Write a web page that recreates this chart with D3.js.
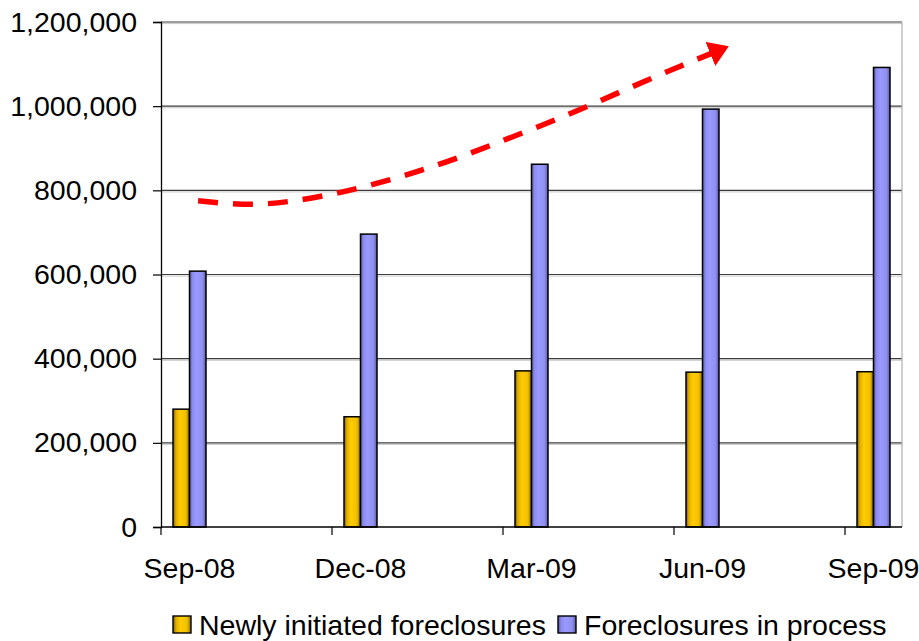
<!DOCTYPE html>
<html>
<head>
<meta charset="utf-8">
<script src="https://cdn.jsdelivr.net/npm/d3@7"></script>
<style>
  html, body { margin: 0; padding: 0; background: #fff; }
  svg { display: block; font-family: "Liberation Sans", Arial, sans-serif; }
</style>
</head>
<body>
<svg id="chart" width="919" height="641"></svg>
<script>
// Quarter-end months, as months after Sep-08 on a monthly date axis
const quarterLabels = ["Sep-08", "Dec-08", "Mar-09", "Jun-09", "Sep-09"];
const quarterMonths = [0, 3, 6, 9, 12];
const monthSlots = 13; // Sep-08 .. Sep-09 inclusive

const seriesNames = ["Newly initiated foreclosures", "Foreclosures in process"];
const newlyInitiated = [280000, 262000, 371000, 368000, 369000];
const inProcess = [608000, 696000, 862000, 993000, 1092000];

const yTicks = [0, 200000, 400000, 600000, 800000, 1000000, 1200000];

// Trend arrow anchor points, in (month, value) space
const trendMonths = [0.15, 1.08, 2.43, 3.69, 6.15, 8.61, 9.17];
const trendValues = [775000, 767000, 789000, 832000, 953000, 1095000, 1126000];

const svg = d3.select("#chart");
const plot = { left: 161, right: 902, top: 22, bottom: 527 };
const fontSize = 28.5;

const x = d3.scaleLinear().domain([0, monthSlots]).range([plot.left, plot.right]);
const y = d3.scaleLinear().domain([0, 1200000]).range([plot.bottom, plot.top]);
const barW = 16.5;

// Gradients giving the bars their rounded shading
const defs = svg.append("defs");
function grad(id, stops) {
  const g = defs.append("linearGradient").attr("id", id)
    .attr("x1", "0%").attr("x2", "100%").attr("y1", "0%").attr("y2", "0%");
  stops.forEach(([o, c]) => g.append("stop").attr("offset", o).attr("stop-color", c));
}
grad("gYellow", [["0%", "#7a5c00"], ["18%", "#e0b000"], ["42%", "#ffcc00"], ["78%", "#f0c000"], ["100%", "#8a6a00"]]);
grad("gBlue", [["0%", "#55559a"], ["18%", "#8c8cf0"], ["42%", "#9999ff"], ["78%", "#9090f2"], ["100%", "#5a5a9e"]]);

// Horizontal gridlines with their soft shadow
const grid = svg.append("g");
yTicks.filter(v => v > 0).forEach(v => {
  grid.append("line").attr("x1", plot.left).attr("x2", plot.right)
    .attr("y1", y(v) + 1.6).attr("y2", y(v) + 1.6)
    .attr("stroke", "#c8c8c8").attr("stroke-width", 1);
  grid.append("line").attr("x1", plot.left).attr("x2", plot.right)
    .attr("y1", y(v)).attr("y2", y(v))
    .attr("stroke", "#3c3c3c").attr("stroke-width", 1.2);
});

// Right edge of the plot area
svg.append("line").attr("x1", plot.right).attr("x2", plot.right)
  .attr("y1", plot.top).attr("y2", plot.bottom)
  .attr("stroke", "#b0b0b0").attr("stroke-width", 1.2);

// Bars
const bars = svg.append("g");
quarterMonths.forEach((m, i) => {
  const cx = x(m + 0.5);
  bars.append("rect")
    .attr("x", cx - barW).attr("y", y(newlyInitiated[i]))
    .attr("width", barW).attr("height", y(0) - y(newlyInitiated[i]))
    .attr("fill", "url(#gYellow)").attr("stroke", "#000").attr("stroke-width", 1.5);
  bars.append("rect")
    .attr("x", cx).attr("y", y(inProcess[i]))
    .attr("width", barW).attr("height", y(0) - y(inProcess[i]))
    .attr("fill", "url(#gBlue)").attr("stroke", "#000").attr("stroke-width", 1.5);
});

// Y axis
const yAxis = d3.axisLeft(y).tickValues(yTicks)
  .tickFormat(d3.format(",")).tickSize(8).tickPadding(16);
const gy = svg.append("g").attr("transform", `translate(${plot.left},0)`).call(yAxis);
gy.select(".domain").attr("stroke", "#000").attr("stroke-width", 1.3);
gy.selectAll(".tick line").attr("stroke", "#000").attr("stroke-width", 1.2);
gy.selectAll(".tick text").attr("font-size", fontSize).attr("fill", "#000")
  .attr("font-family", "'Liberation Sans', Arial, sans-serif");

// X axis: tick marks at quarter boundaries, labels centred on the month slots
const gx = svg.append("g").attr("transform", `translate(0,${plot.bottom})`);
gx.append("line").attr("x1", plot.left).attr("x2", plot.right).attr("y1", 0).attr("y2", 0)
  .attr("stroke", "#000").attr("stroke-width", 1.3);
quarterMonths.forEach((m, i) => {
  gx.append("line").attr("x1", x(m)).attr("x2", x(m)).attr("y1", 0).attr("y2", 8)
    .attr("stroke", "#000").attr("stroke-width", 1.2);
  gx.append("text").attr("x", x(m + 0.5)).attr("y", 51)
    .attr("text-anchor", "middle").attr("font-size", fontSize).attr("fill", "#000")
    .text(quarterLabels[i]);
});

// Dashed trend arrow
defs.append("marker").attr("id", "arrowHead")
  .attr("markerUnits", "userSpaceOnUse")
  .attr("viewBox", "0 0 20 26").attr("refX", 2).attr("refY", 13)
  .attr("markerWidth", 20).attr("markerHeight", 26).attr("orient", "auto")
  .append("path").attr("d", "M0,0 L20,13 L0,26 Z").attr("fill", "#ff0000");

const trendLine = d3.line().x(d => x(d[0] + 0.5)).y(d => y(d[1]))
  .curve(d3.curveMonotoneX);
svg.append("path")
  .datum(trendMonths.map((m, i) => [m, trendValues[i]]))
  .attr("d", trendLine)
  .attr("fill", "none").attr("stroke", "#ff0000").attr("stroke-width", 5.5)
  .attr("stroke-dasharray", "20 15")
  .attr("marker-end", "url(#arrowHead)");

// Legend
const legend = svg.append("g");
const legendItems = [
  { name: seriesNames[0], fill: "url(#gYellow)", x: 173 },
  { name: seriesNames[1], fill: "url(#gBlue)", x: 558 }
];
legendItems.forEach(it => {
  legend.append("rect").attr("x", it.x).attr("y", 616).attr("width", 18).attr("height", 17)
    .attr("fill", it.fill).attr("stroke", "#000").attr("stroke-width", 1.4);
  legend.append("text").attr("x", it.x + 26).attr("y", 635)
    .attr("font-size", fontSize).attr("fill", "#000").text(it.name);
});
</script>
</body>
</html>
